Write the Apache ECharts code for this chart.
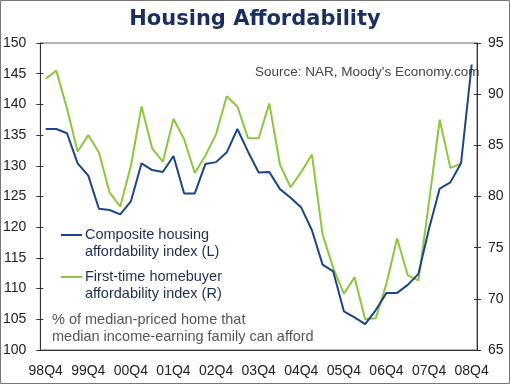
<!DOCTYPE html>
<html>
<head>
<meta charset="utf-8">
<script src="https://cdn.jsdelivr.net/npm/echarts@6/dist/echarts.min.js"></script>
<style>
html,body{margin:0;padding:0;background:#fff;}
#chart{width:510px;height:384px;}
</style>
</head>
<body>
<div id="chart"></div>
<script>
var categories = ['98Q4','99Q1','99Q2','99Q3','99Q4','00Q1','00Q2','00Q3','00Q4','01Q1','01Q2','01Q3','01Q4','02Q1','02Q2','02Q3','02Q4','03Q1','03Q2','03Q3','03Q4','04Q1','04Q2','04Q3','04Q4','05Q1','05Q2','05Q3','05Q4','06Q1','06Q2','06Q3','06Q4','07Q1','07Q2','07Q3','07Q4','08Q1','08Q2','08Q3','08Q4'];
var compositeIndex = [136.0,136.0,135.3,130.4,128.4,123.0,122.8,122.1,124.2,130.4,129.3,129.0,131.6,125.5,125.5,130.3,130.6,132.2,136.0,132.3,128.9,129.0,126.2,124.8,123.2,119.5,113.9,112.8,106.3,105.3,104.2,106.5,109.3,109.3,110.6,112.4,119.8,126.3,127.3,130.4,146.5];
var firstTimeIndex = [91.5,92.3,88.6,84.4,86.0,84.3,80.4,79.0,83.0,88.8,84.7,83.4,87.6,85.6,82.3,84.0,86.1,89.8,88.8,85.7,85.7,89.1,83.1,80.9,82.4,84.1,76.3,73.0,70.5,72.1,68.0,68.1,71.5,75.9,72.3,71.8,79.5,87.5,82.8,83.2,null];
var leftAxis = {min:100, max:150, interval:5};
var rightAxis = {min:65, max:95, interval:5};

var BLUE = '#1C4585';
var GREEN = '#8DC63F';
var FONT = 'Liberation Sans, Arial, sans-serif';

var chart = echarts.init(document.getElementById('chart'), null, {renderer:'canvas'});

function yAx(pos, sc, inside, labelMargin){
  return {
    type:'value', position:pos, min:sc.min, max:sc.max, interval:sc.interval,
    splitLine:{show:false},
    axisLine:{show:!inside, lineStyle:{color:'#333', width:1}},
    axisTick:{show:true, inside:inside, length:inside?3:4, lineStyle:{color:'#333'}},
    axisLabel:{show:!inside, fontSize:14, color:'#222', fontFamily:FONT, margin:labelMargin}
  };
}

chart.setOption({
  animation:false,
  backgroundColor:'#fff',
  title:{
    text:'Housing Affordability', left:'center', top:4,
    textStyle:{fontFamily:'DejaVu Sans, Verdana, sans-serif', fontWeight:'bold', fontSize:21, color:'#1B2F5E'}
  },
  grid:{left:40, right:33, top:43, bottom:34, show:true, borderColor:'#666', borderWidth:1, backgroundColor:'transparent'},
  xAxis:{
    type:'category', data:categories, boundaryGap:true,
    axisLine:{lineStyle:{color:'#333'}},
    axisTick:{interval:3, length:5, lineStyle:{color:'#333'}},
    axisLabel:{interval:3, fontSize:14, color:'#222', fontFamily:FONT, margin:14},
    splitLine:{show:false}
  },
  yAxis:[
    yAx('left', leftAxis, false, 14),
    yAx('right', rightAxis, false, 11),
    yAx('left', leftAxis, true, 0),
    yAx('right', rightAxis, true, 0)
  ],
  series:[
    {name:'Composite housing affordability index (L)', type:'line', yAxisIndex:0, data:compositeIndex,
     showSymbol:false, lineStyle:{color:BLUE, width:2}, itemStyle:{color:BLUE}, z:3},
    {name:'First-time homebuyer affordability index (R)', type:'line', yAxisIndex:1, data:firstTimeIndex,
     showSymbol:false, lineStyle:{color:GREEN, width:2}, itemStyle:{color:GREEN}, z:2}
  ],
  graphic:[
    {type:'rect', shape:{x:0.5, y:0.5, width:509, height:383}, style:{fill:'none', stroke:'#777', lineWidth:1}, silent:true},
    {type:'text', left:255, top:65, style:{text:"Source: NAR, Moody's Economy.com", font:'13.5px '+FONT, fill:'#444'}},
    {type:'line', shape:{x1:61, y1:235, x2:82, y2:235}, style:{stroke:BLUE, lineWidth:2}},
    {type:'text', left:85, top:226, style:{text:'Composite housing\naffordability index (L)', font:'14.5px '+FONT, fill:'#1F2D50', lineHeight:17.5}},
    {type:'line', shape:{x1:61, y1:277, x2:82, y2:277}, style:{stroke:GREEN, lineWidth:2}},
    {type:'text', left:85, top:268, style:{text:'First-time homebuyer\naffordability index (R)', font:'14.5px '+FONT, fill:'#1F2D50', lineHeight:17.5}},
    {type:'text', left:52, top:311, style:{text:'% of median-priced home that\nmedian income-earning family can afford', font:'14.5px '+FONT, fill:'#555', lineHeight:17}}
  ]
});
</script>
</body>
</html>
